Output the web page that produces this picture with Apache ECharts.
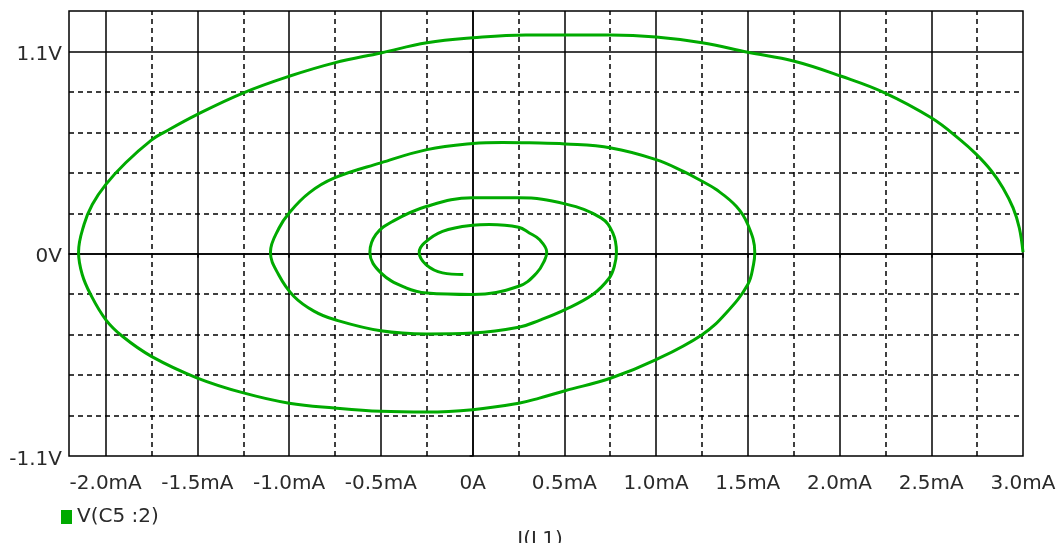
<!DOCTYPE html>
<html>
<head>
<meta charset="utf-8">
<script src="https://cdn.jsdelivr.net/npm/echarts@6/dist/echarts.min.js"></script>
<style>
html,body{margin:0;padding:0;background:#fff;}
#chart{width:1061px;height:543px;}
</style>
</head>
<body>
<div id="chart"></div>
<script>
// Inductor current I(L1) in mA, read along the spiral from start (outer) to end (centre)
var currentMA = [
  3.0, 2.98, 2.946, 2.891, 2.828, 2.746, 2.655, 2.50, 2.246, 2.01, 1.754, 1.50, 1.251, 1.0, 0.755, 0.504, 0.29, 0, -0.249, -0.5, -0.753, -1.0, -1.249, -1.50, -1.682, -1.751, -1.891, -2.0, -2.073, -2.118, -2.148, -2.128, -2.082, -2.0, -1.909, -1.751, -1.50, -1.249, -1.0, -0.753, -0.50, -0.249, 0, 0.251, 0.364, 0.504, 0.755, 1.0, 1.251, 1.382, 1.50, 1.531, 1.538,
  1.50, 1.437, 1.328, 1.251, 1.146, 1.0, 0.755, 0.504, 0.309, 0.164, 0, -0.249, -0.50, -0.753, -0.891, -1.0, -1.055, -1.102, -1.058, -0.975, -0.865, -0.753, -0.50, -0.249, 0, 0.251, 0.364, 0.504, 0.655, 0.745, 0.772, 0.784,
  0.764, 0.70, 0.504, 0.251, 0.0, -0.249, -0.436, -0.527, -0.56, -0.50, -0.363, -0.249, 0, 0.251, 0.349, 0.393, 0.404,
  0.364, 0.309, 0.251, 0.091, 0, -0.164, -0.264, -0.291, -0.254, -0.164, -0.051
];
// Capacitor voltage V(C5:2) in V
var voltageV = [
  0.008, 0.140, 0.249, 0.358, 0.450, 0.540, 0.622, 0.739, 0.875, 0.965, 1.047, 1.096, 1.147, 1.178, 1.189, 1.189, 1.190, 1.174, 1.147, 1.092, 1.038, 0.965, 0.875, 0.758, 0.660, 0.618, 0.495, 0.376, 0.268, 0.159, 0.008, -0.113, -0.222, -0.358, -0.449, -0.558, -0.676, -0.757, -0.813, -0.839, -0.857, -0.861, -0.848, -0.813, -0.785, -0.745, -0.676, -0.576, -0.440, -0.322, -0.167, -0.059, 0.008,
  0.159, 0.258, 0.349, 0.394, 0.449, 0.512, 0.575, 0.597, 0.603, 0.605, 0.599, 0.566, 0.494, 0.412, 0.331, 0.222, 0.140, 0.008, -0.113, -0.231, -0.312, -0.358, -0.419, -0.436, -0.431, -0.400, -0.362, -0.304, -0.222, -0.132, -0.070, 0.008,
  0.113, 0.195, 0.271, 0.304, 0.304, 0.258, 0.176, 0.105, 0.008, -0.104, -0.186, -0.214, -0.222, -0.177, -0.105, -0.034, 0.009,
  0.077, 0.113, 0.144, 0.159, 0.155, 0.122, 0.058, 0.008, -0.059, -0.104, -0.113
];
var seriesName = 'V(C5 :2)';
var xAxisName = 'I(L1)';

var xTickValues = [-2.0, -1.5, -1.0, -0.5, 0, 0.5, 1.0, 1.5, 2.0, 2.5, 3.0];
var xTickLabels = ['-2.0mA', '-1.5mA', '-1.0mA', '-0.5mA', '0A', '0.5mA', '1.0mA', '1.5mA', '2.0mA', '2.5mA', '3.0mA'];
var xMinorGrid = [-1.75, -1.25, -0.75, -0.25, 0.25, 0.75, 1.25, 1.75, 2.25, 2.75];
var xMajorGrid = [-2.0, -1.5, -1.0, -0.5, 0, 0.5, 1.0, 1.5, 2.0, 2.5];

var yTickValues = [-1.1, 0, 1.1];
var yTickLabels = ['-1.1V', '0V', '1.1V'];
var yMinorGrid = [-0.88, -0.66, -0.44, -0.22, 0.22, 0.44, 0.66, 0.88];
var yMajorGrid = [0, 1.1];

var points = currentMA.map(function (x, i) { return [x, voltageV[i]]; });

function lookup(vals, labels, v) {
  for (var i = 0; i < vals.length; i++) {
    if (Math.abs(vals[i] - v) < 1e-6) return labels[i];
  }
  return '';
}

var FONT = 'DejaVu Sans';
var TXT = '#2a2a2a';
var dashStyle = { color: '#000', width: 1.5, type: [5, 4] };
var solidStyle = { color: '#000', width: 1.5, type: 'solid' };

var gridLines = [];
xMinorGrid.forEach(function (v) { gridLines.push({ xAxis: v, lineStyle: dashStyle }); });
yMinorGrid.forEach(function (v) { gridLines.push({ yAxis: v, lineStyle: dashStyle }); });
xMajorGrid.forEach(function (v) { gridLines.push({ xAxis: v, lineStyle: solidStyle }); });
yMajorGrid.forEach(function (v) { gridLines.push({ yAxis: v, lineStyle: solidStyle }); });

var chart = echarts.init(document.getElementById('chart'), null, { renderer: 'canvas' });
chart.setOption({
  animation: false,
  backgroundColor: '#fff',
  grid: {
    left: 69, right: 38, top: 11, bottom: 87,
    outerBoundsMode: 'none', containLabel: false,
    show: true, borderColor: '#000', borderWidth: 1.5
  },
  legend: {
    data: [seriesName],
    left: 61, top: 507, padding: 0,
    icon: 'rect', itemWidth: 11, itemHeight: 14,
    textStyle: { fontFamily: FONT, fontSize: 20, color: TXT },
    selectedMode: false
  },
  xAxis: {
    type: 'value', min: -2.2, max: 3.0,
    name: xAxisName, nameLocation: 'middle', nameGap: 74,
    nameTextStyle: { fontFamily: FONT, fontSize: 20, color: TXT, padding: [0, 12, 0, 0] },
    axisLine: { show: true, lineStyle: { color: '#000', width: 1.5 } },
    axisTick: { show: true, customValues: xTickValues, length: 4, lineStyle: { color: '#000', width: 1.5 } },
    axisLabel: {
      customValues: xTickValues,
      formatter: function (v) { return lookup(xTickValues, xTickLabels, v); },
      fontFamily: FONT, fontSize: 20, color: TXT, margin: 18
    },
    splitLine: { show: false }
  },
  yAxis: {
    type: 'value', min: -1.1, max: 1.32, interval: 0.22,
    axisLine: { show: true, lineStyle: { color: '#000', width: 1.5 } },
    axisTick: { show: true, customValues: yTickValues, length: 3, lineStyle: { color: '#000', width: 1.5 } },
    axisLabel: {
      customValues: yTickValues,
      formatter: function (v) { return '{v|' + lookup(yTickValues, yTickLabels, v) + '}'; },
      rich: { v: { fontFamily: FONT, fontSize: 20, color: TXT, padding: [7, 0, 0, 0] } },
      fontFamily: FONT, fontSize: 20, color: TXT, margin: 7
    },
    splitLine: { show: false }
  },
  series: [{
    name: seriesName,
    type: 'line',
    data: points,
    z: 10,
    showSymbol: false,
    smooth: 0.4,
    color: '#00aa00',
    lineStyle: { color: '#00aa00', width: 3 },
    markLine: {
      z: 1,
      silent: true,
      symbol: ['none', 'none'],
      label: { show: false },
      emphasis: { disabled: true },
      data: gridLines
    }
  }]
});
</script>
</body>
</html>
